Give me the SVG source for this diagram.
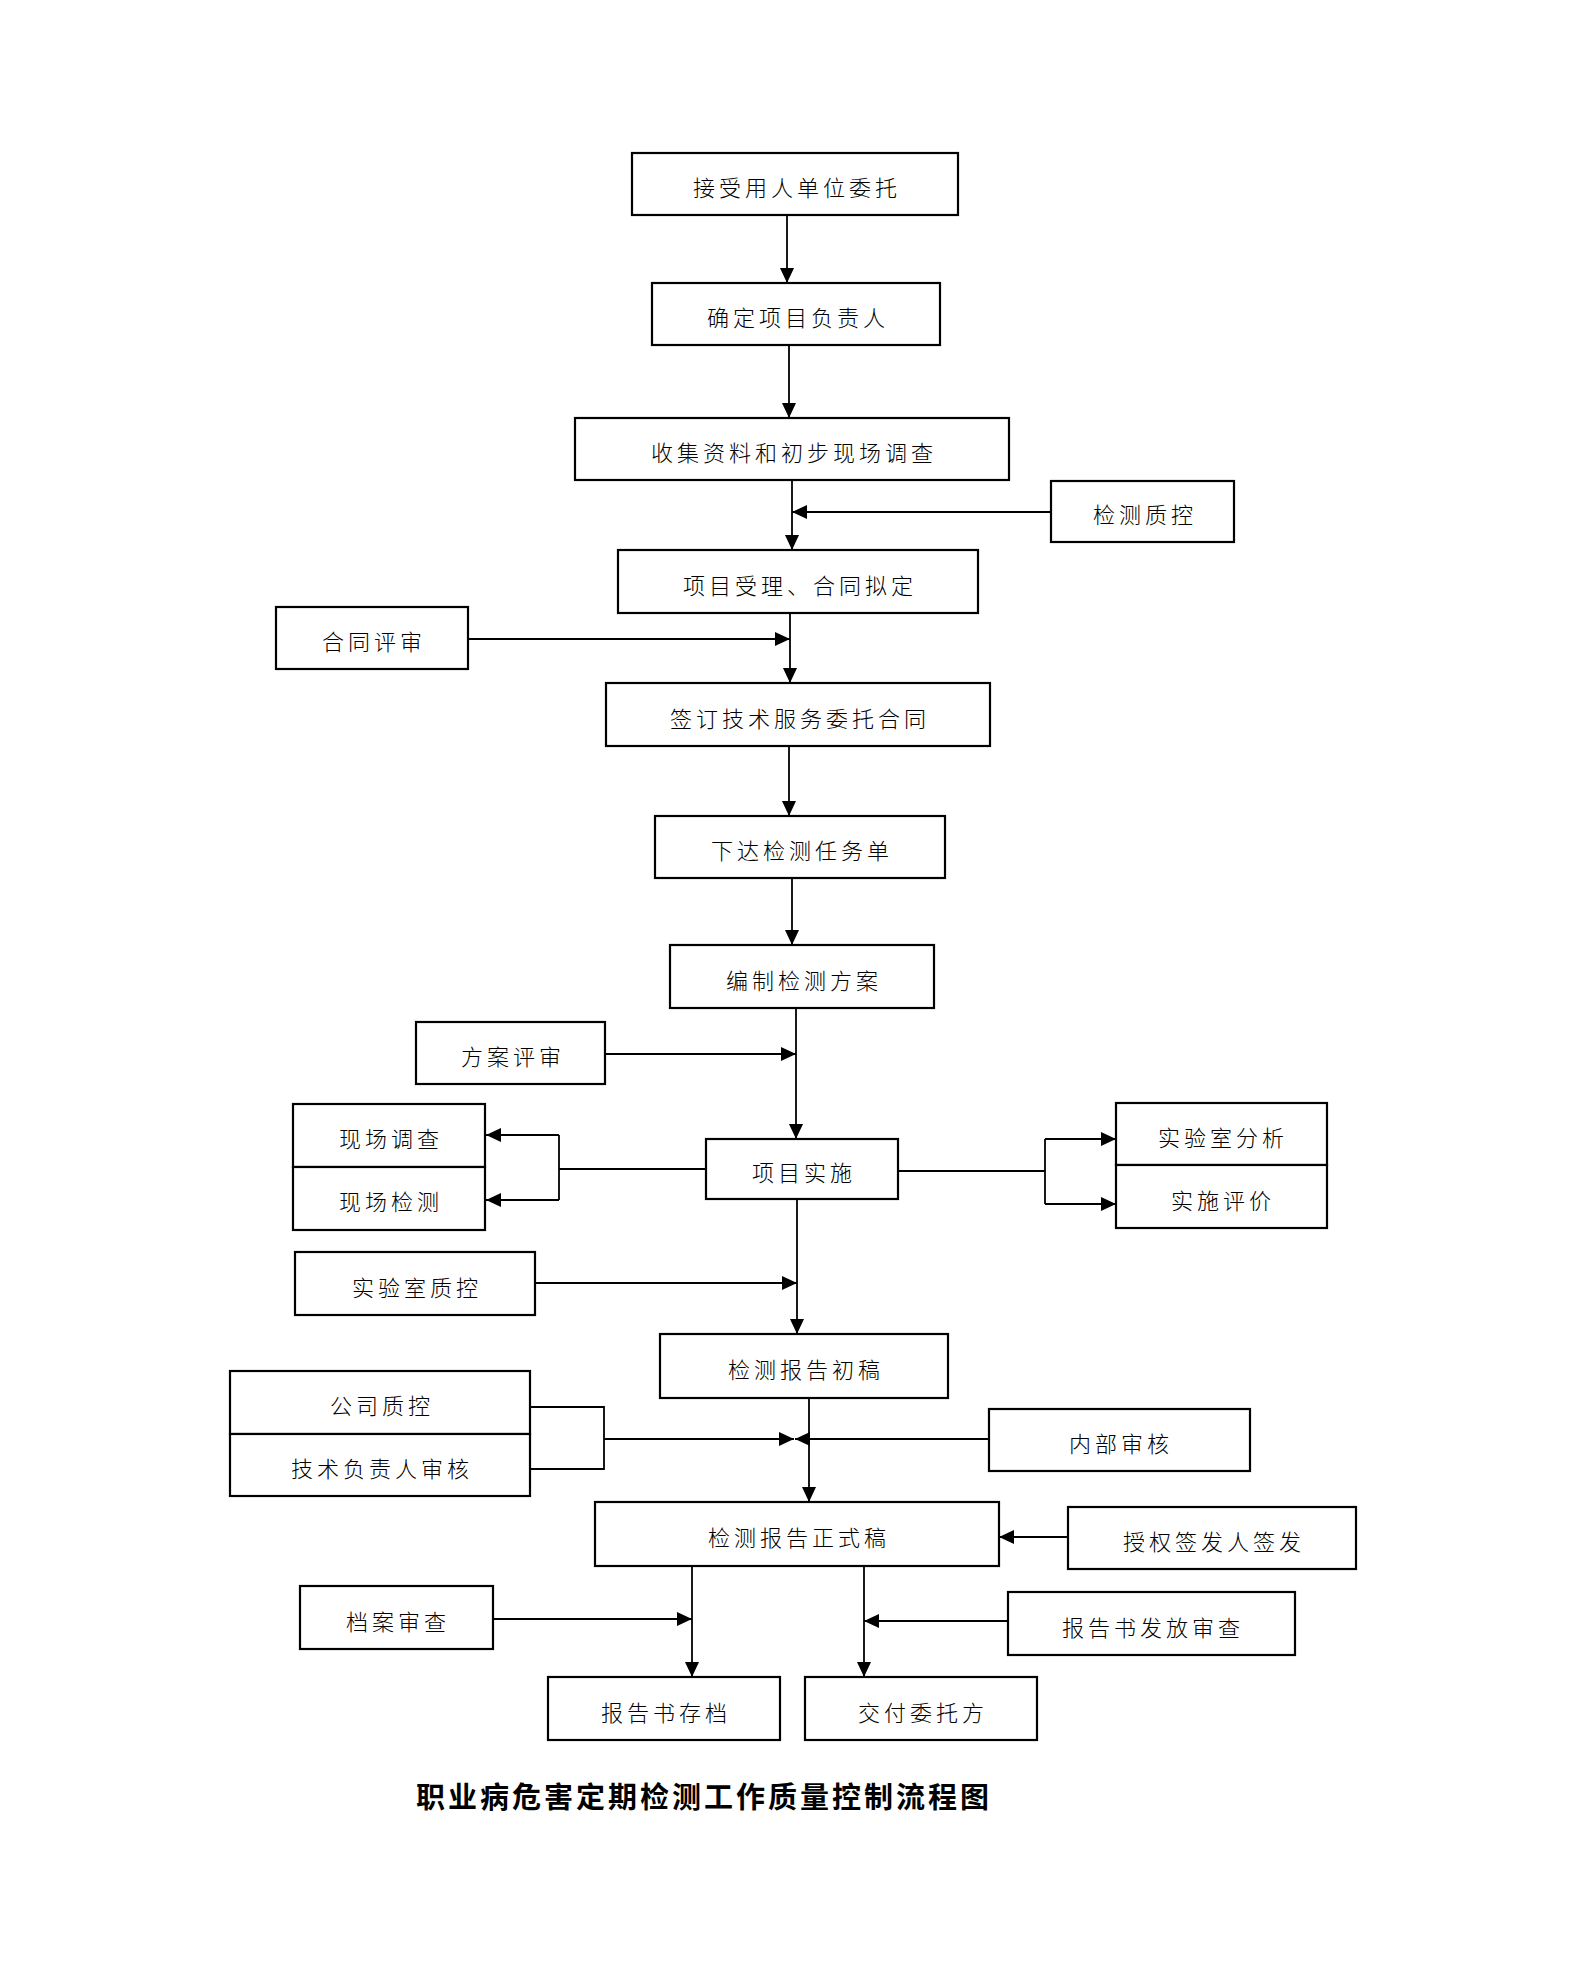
<svg xmlns="http://www.w3.org/2000/svg" width="1587" height="1964" viewBox="0 0 1587 1964">
<defs>
<marker id="ah" markerUnits="userSpaceOnUse" markerWidth="15" markerHeight="14" refX="15" refY="7" orient="auto">
<path d="M0,0 L15,7 L0,14 z" fill="#000"/>
</marker>
<style>
.b{fill:#fff;stroke:#000;stroke-width:2.2}
.t{font-family:"Noto Sans CJK SC","Noto Sans",sans-serif;font-size:22px;font-weight:300;letter-spacing:4px;text-anchor:middle;fill:#000}
.c{fill:none;stroke:#000;stroke-width:1.8}
.a{fill:none;stroke:#000;stroke-width:1.8;marker-end:url(#ah)}
.title{font-family:"Noto Sans CJK SC","Noto Sans",sans-serif;font-size:29px;font-weight:bold;letter-spacing:3px;text-anchor:middle;fill:#000}
</style>
</defs>
<rect width="1587" height="1964" fill="#fff"/>
<g id="connectors">
<line class="a" x1="787" y1="215" x2="787" y2="283"/>
<line class="a" x1="789" y1="345" x2="789" y2="418"/>
<line class="a" x1="792" y1="480" x2="792" y2="550"/>
<line class="a" x1="1051" y1="512" x2="792" y2="512"/>
<line class="a" x1="790" y1="613" x2="790" y2="683"/>
<line class="a" x1="468" y1="639" x2="790" y2="639"/>
<line class="a" x1="789" y1="746" x2="789" y2="816"/>
<line class="a" x1="792" y1="878" x2="792" y2="945"/>
<line class="a" x1="796" y1="1008" x2="796" y2="1139"/>
<line class="a" x1="605" y1="1054" x2="796" y2="1054"/>
<polyline class="c" points="706,1169 559,1169"/>
<polyline class="c" points="559,1135 559,1200"/>
<line class="a" x1="559" y1="1135" x2="486" y2="1135"/>
<line class="a" x1="559" y1="1200" x2="486" y2="1200"/>
<polyline class="c" points="898,1171 1045,1171"/>
<polyline class="c" points="1045,1139 1045,1204"/>
<line class="a" x1="1045" y1="1139" x2="1116" y2="1139"/>
<line class="a" x1="1045" y1="1204" x2="1116" y2="1204"/>
<line class="a" x1="797" y1="1199" x2="797" y2="1334"/>
<line class="a" x1="535" y1="1283" x2="797" y2="1283"/>
<polyline class="c" points="530,1407 604,1407 604,1469 530,1469"/>
<line class="a" x1="604" y1="1439" x2="794" y2="1439"/>
<line class="a" x1="989" y1="1439" x2="795" y2="1439"/>
<line class="a" x1="809" y1="1398" x2="809" y2="1502"/>
<line class="a" x1="1068" y1="1537" x2="999" y2="1537"/>
<line class="a" x1="692" y1="1566" x2="692" y2="1677"/>
<line class="a" x1="493" y1="1619" x2="692" y2="1619"/>
<line class="a" x1="864" y1="1566" x2="864" y2="1677"/>
<line class="a" x1="1008" y1="1621" x2="864" y2="1621"/>
</g>
<g id="n1"><rect class="b" x="632" y="153" width="326" height="62"/><text class="t" x="797" y="196">接受用人单位委托</text></g>
<g id="n2"><rect class="b" x="652" y="283" width="288" height="62"/><text class="t" x="798" y="326">确定项目负责人</text></g>
<g id="n3"><rect class="b" x="575" y="418" width="434" height="62"/><text class="t" x="794" y="461">收集资料和初步现场调查</text></g>
<g id="n-jczk"><rect class="b" x="1051" y="481" width="183" height="61"/><text class="t" x="1145" y="523">检测质控</text></g>
<g id="n4"><rect class="b" x="618" y="550" width="360" height="63"/><text class="t" x="800" y="594">项目受理、合同拟定</text></g>
<g id="n-htps"><rect class="b" x="276" y="607" width="192" height="62"/><text class="t" x="374" y="650">合同评审</text></g>
<g id="n5"><rect class="b" x="606" y="683" width="384" height="63"/><text class="t" x="800" y="727">签订技术服务委托合同</text></g>
<g id="n6"><rect class="b" x="655" y="816" width="290" height="62"/><text class="t" x="802" y="859">下达检测任务单</text></g>
<g id="n7"><rect class="b" x="670" y="945" width="264" height="63"/><text class="t" x="804" y="989">编制检测方案</text></g>
<g id="n-faps"><rect class="b" x="416" y="1022" width="189" height="62"/><text class="t" x="513" y="1065">方案评审</text></g>
<g id="n8"><rect class="b" x="706" y="1139" width="192" height="60"/><text class="t" x="804" y="1181">项目实施</text></g>
<g id="n-xcdc"><rect class="b" x="293" y="1104" width="192" height="63"/><text class="t" x="391" y="1147">现场调查</text></g>
<g id="n-xcjc"><rect class="b" x="293" y="1167" width="192" height="63"/><text class="t" x="391" y="1210">现场检测</text></g>
<g id="n-sysfx"><rect class="b" x="1116" y="1103" width="211" height="62"/><text class="t" x="1223" y="1146">实验室分析</text></g>
<g id="n-sspj"><rect class="b" x="1116" y="1165" width="211" height="63"/><text class="t" x="1223" y="1209">实施评价</text></g>
<g id="n-syszk"><rect class="b" x="295" y="1252" width="240" height="63"/><text class="t" x="417" y="1296">实验室质控</text></g>
<g id="n9"><rect class="b" x="660" y="1334" width="288" height="64"/><text class="t" x="806" y="1378">检测报告初稿</text></g>
<g id="n-gszk"><rect class="b" x="230" y="1371" width="300" height="63"/><text class="t" x="382" y="1414">公司质控</text></g>
<g id="n-jsfzr"><rect class="b" x="230" y="1434" width="300" height="62"/><text class="t" x="382" y="1477">技术负责人审核</text></g>
<g id="n-nbsh"><rect class="b" x="989" y="1409" width="261" height="62"/><text class="t" x="1121" y="1452">内部审核</text></g>
<g id="n10"><rect class="b" x="595" y="1502" width="404" height="64"/><text class="t" x="799" y="1546">检测报告正式稿</text></g>
<g id="n-sqqf"><rect class="b" x="1068" y="1507" width="288" height="62"/><text class="t" x="1214" y="1550">授权签发人签发</text></g>
<g id="n-dasc"><rect class="b" x="300" y="1586" width="193" height="63"/><text class="t" x="398" y="1630">档案审查</text></g>
<g id="n-ffsc"><rect class="b" x="1008" y="1592" width="287" height="63"/><text class="t" x="1153" y="1636">报告书发放审查</text></g>
<g id="n-cd"><rect class="b" x="548" y="1677" width="232" height="63"/><text class="t" x="666" y="1721">报告书存档</text></g>
<g id="n-jf"><rect class="b" x="805" y="1677" width="232" height="63"/><text class="t" x="923" y="1721">交付委托方</text></g>
<text class="title" x="704" y="1808">职业病危害定期检测工作质量控制流程图</text>
</svg>
